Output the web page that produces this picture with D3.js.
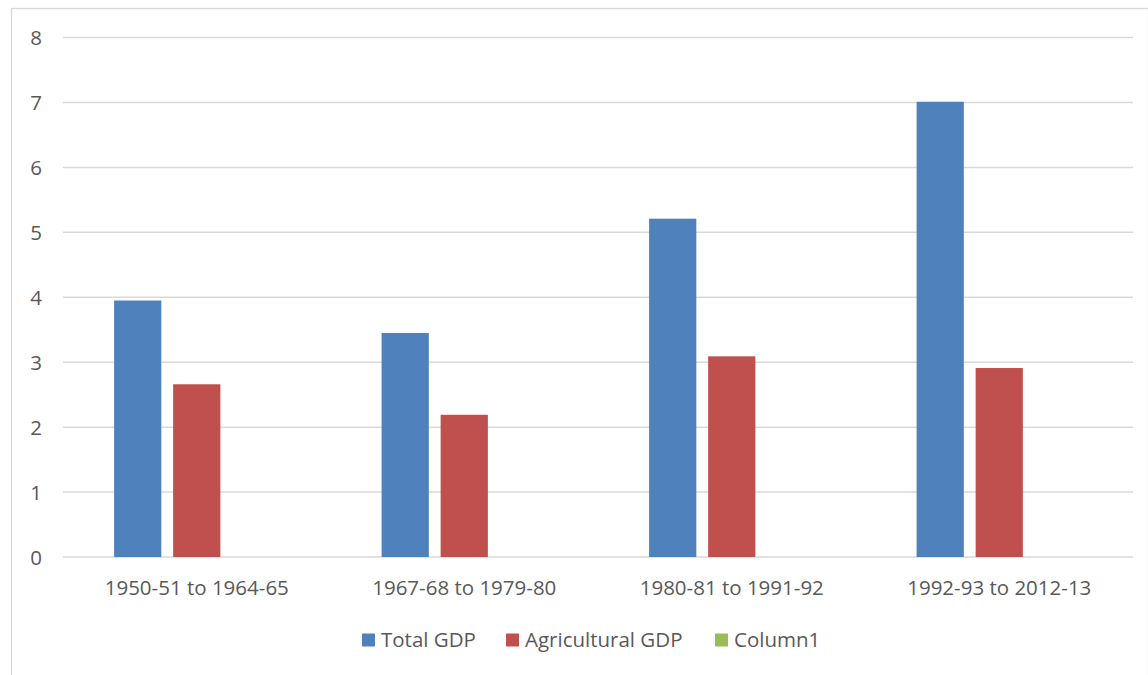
<!DOCTYPE html>
<html>
<head>
<meta charset="utf-8">
<script src="https://cdn.jsdelivr.net/npm/d3@7"></script>
<style>
  html, body { margin: 0; padding: 0; background: #fff; }
  svg { display: block; }
  text { font-family: "Open Sans", "Noto Sans", sans-serif; fill: #595959; }
</style>
</head>
<body>
<svg id="chart" width="1148" height="675"></svg>
<script>
// Average annual growth rates by period
const periods = ["1950-51 to 1964-65", "1967-68 to 1979-80", "1980-81 to 1991-92", "1992-93 to 2012-13"];
const seriesNames = ["Total GDP", "Agricultural GDP", "Column1"];
const totalGDP = [3.95, 3.45, 5.21, 7.01];
const agriculturalGDP = [2.66, 2.19, 3.09, 2.91];
const column1 = [null, null, null, null];
const yTicks = [0, 1, 2, 3, 4, 5, 6, 7, 8];
const colors = ["#4f81bd", "#c0504d", "#9bbb59"];

const series = [totalGDP, agriculturalGDP, column1];
const FONT = '"Open Sans", "Noto Sans", sans-serif';
const FS = "20.5px";

const svg = d3.select("#chart");
const W = 1148, H = 675;
const plot = { left: 63, right: 1133, top: 37.5, bottom: 557 };

// outer chart frame
svg.append("rect")
  .attr("x", 11.5).attr("y", 8.5)
  .attr("width", W - 11).attr("height", H - 6)
  .attr("fill", "none").attr("stroke", "#d9d9d9").attr("stroke-width", 1.3);

const x0 = d3.scaleBand().domain(periods).range([plot.left, plot.right]).paddingInner(0.382).paddingOuter(0.191);
const x1 = d3.scaleBand().domain(seriesNames).range([0, x0.bandwidth()]).paddingInner(0.2);
const y = d3.scaleLinear().domain([0, 8]).range([plot.bottom, plot.top]);

// horizontal gridlines
svg.append("g").selectAll("line").data(yTicks).join("line")
  .attr("x1", plot.left).attr("x2", plot.right)
  .attr("y1", d => y(d)).attr("y2", d => y(d))
  .attr("stroke", "#d9d9d9").attr("stroke-width", 1.5);

// y-axis labels
const yAxis = d3.axisLeft(y).tickValues(yTicks).tickSize(0).tickPadding(0);
svg.append("g").attr("transform", `translate(42,0)`).call(yAxis)
  .call(g => g.select(".domain").remove())
  .selectAll("text").style("font-size", FS).attr("fill", "#595959")
  .style("font-family", FONT).attr("dy", "0.35em");

// category labels
const xAxis = d3.axisBottom(x0).tickSize(0).tickPadding(0);
svg.append("g").attr("transform", `translate(0,${plot.bottom + 31})`).call(xAxis)
  .call(g => g.select(".domain").remove())
  .selectAll("text").style("font-size", FS).attr("fill", "#595959")
  .style("font-family", FONT).attr("dy", "0.35em");

// bars
const groups = svg.append("g").selectAll("g").data(periods).join("g")
  .attr("transform", d => `translate(${x0(d)},0)`);
groups.selectAll("rect")
  .data((p, i) => series.map((s, k) => ({ name: seriesNames[k], value: s[i], color: colors[k] })).filter(d => d.value != null))
  .join("rect")
  .attr("x", d => x1(d.name))
  .attr("width", x1.bandwidth())
  .attr("y", d => y(d.value))
  .attr("height", d => y(0) - y(d.value))
  .attr("fill", d => d.color);

// legend
const legendItems = [
  { name: seriesNames[0], color: colors[0], x: 362 },
  { name: seriesNames[1], color: colors[1], x: 506 },
  { name: seriesNames[2], color: colors[2], x: 715 }
];
const legend = svg.append("g").selectAll("g").data(legendItems).join("g")
  .attr("transform", d => `translate(${d.x},640)`);
legend.append("rect").attr("x", 0).attr("y", -6.5).attr("width", 13).attr("height", 13).attr("fill", d => d.color);
legend.append("text").attr("x", 19).attr("dy", "0.35em").style("font-size", FS).text(d => d.name);
</script>
</body>
</html>
